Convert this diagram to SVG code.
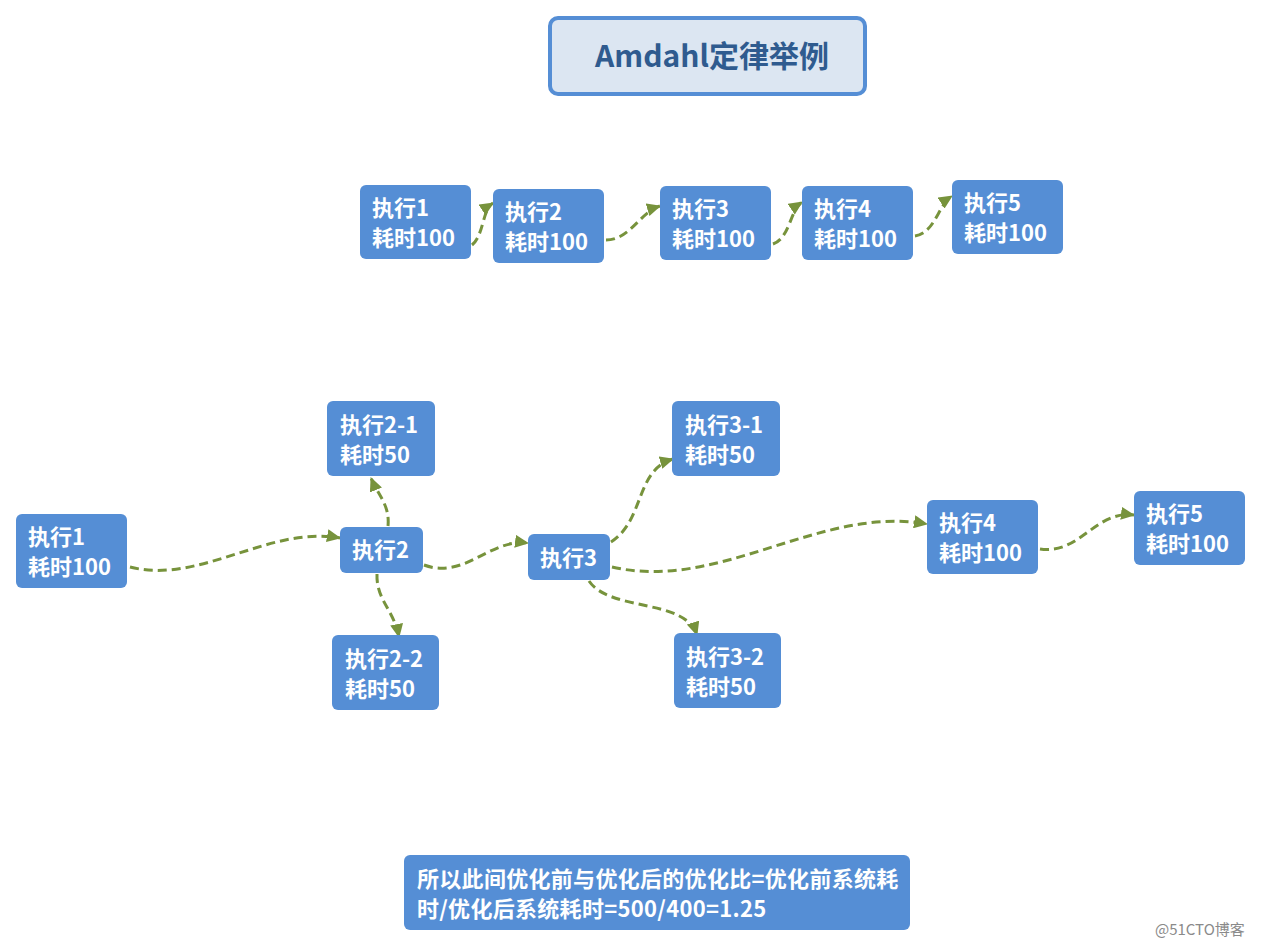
<svg xmlns="http://www.w3.org/2000/svg" width="1262" height="947" viewBox="0 0 1262 947">
<style>
.node{fill:#558ed5;}
.t{font-family:"Noto Sans CJK SC","Liberation Sans",sans-serif;font-weight:bold;font-size:22px;fill:#ffffff;}
.s{letter-spacing:0.3px;}
.title{font-family:"Noto Sans CJK SC","Liberation Sans",sans-serif;font-weight:bold;font-size:30px;fill:#2f5b8f;}
.c{fill:none;stroke:#77933c;stroke-width:3;stroke-dasharray:9,5;marker-end:url(#ah);}
.wm{font-family:"Noto Sans CJK SC","Liberation Sans",sans-serif;font-size:15px;fill:#8a8a8a;}
</style>
<defs>
<marker id="ah" markerUnits="userSpaceOnUse" markerWidth="15" markerHeight="13" refX="13" refY="6.5" orient="auto">
<path d="M0,0 L14,6.5 L0,13 Z" fill="#77933c"/>
</marker>
</defs>
<rect width="1262" height="947" fill="#ffffff"/>
<g id="title">
<rect x="550" y="18" width="315" height="76" rx="8" fill="#dce6f2" stroke="#558ed5" stroke-width="4"/>
<text class="title" x="712" y="67" text-anchor="middle">Amdahl定律举例</text>
</g>
<g id="connectors">
<path class="c" d="M472,245 C484,235 482,210 493,203"/>
<path class="c" d="M606,240 C630,240 640,212 660,206"/>
<path class="c" d="M773,244 C790,238 790,210 802,202"/>
<path class="c" d="M915,236 C935,233 938,205 952,196"/>
<path class="c" d="M130,567 C200,585 270,525 340,538"/>
<path class="c" d="M388,526 C390,505 378,495 371,478"/>
<path class="c" d="M377,574 C376,600 394,610 399,637"/>
<path class="c" d="M424,565 C465,580 490,538 528,543"/>
<path class="c" d="M611,542 C645,520 635,470 673,459"/>
<path class="c" d="M612,567 C720,592 820,505 927,524"/>
<path class="c" d="M589,581 C610,612 685,598 697,635"/>
<path class="c" d="M1040,549 C1080,555 1095,510 1134,515"/>
</g>
<g id="n1"><rect class="node" x="360" y="185" width="111" height="74" rx="6"/><text class="t" x="372" y="216">执行1</text><text class="t" x="372" y="246">耗时100</text></g>
<g id="n2"><rect class="node" x="493" y="189" width="111" height="74" rx="6"/><text class="t" x="505" y="220">执行2</text><text class="t" x="505" y="250">耗时100</text></g>
<g id="n3"><rect class="node" x="660" y="186" width="111" height="74" rx="6"/><text class="t" x="672" y="217">执行3</text><text class="t" x="672" y="247">耗时100</text></g>
<g id="n4"><rect class="node" x="802" y="186" width="111" height="74" rx="6"/><text class="t" x="814" y="217">执行4</text><text class="t" x="814" y="247">耗时100</text></g>
<g id="n5"><rect class="node" x="952" y="180" width="111" height="74" rx="6"/><text class="t" x="964" y="211">执行5</text><text class="t" x="964" y="241">耗时100</text></g>
<g id="m1"><rect class="node" x="16" y="514" width="111" height="74" rx="6"/><text class="t" x="28" y="545">执行1</text><text class="t" x="28" y="575">耗时100</text></g>
<g id="m2"><rect class="node" x="340" y="527" width="83" height="46" rx="6"/><text class="t" x="352" y="558">执行2</text></g>
<g id="m21"><rect class="node" x="327" y="401" width="108" height="75" rx="6"/><text class="t" x="340" y="433">执行2-1</text><text class="t" x="340" y="463">耗时50</text></g>
<g id="m22"><rect class="node" x="332" y="635" width="107" height="75" rx="6"/><text class="t" x="345" y="667">执行2-2</text><text class="t" x="345" y="697">耗时50</text></g>
<g id="m3"><rect class="node" x="528" y="534" width="82" height="46" rx="6"/><text class="t" x="540" y="566">执行3</text></g>
<g id="m31"><rect class="node" x="672" y="401" width="108" height="75" rx="6"/><text class="t" x="685" y="433">执行3-1</text><text class="t" x="685" y="463">耗时50</text></g>
<g id="m32"><rect class="node" x="674" y="633" width="107" height="75" rx="6"/><text class="t" x="686" y="665">执行3-2</text><text class="t" x="686" y="695">耗时50</text></g>
<g id="m4"><rect class="node" x="927" y="500" width="111" height="74" rx="6"/><text class="t" x="939" y="531">执行4</text><text class="t" x="939" y="561">耗时100</text></g>
<g id="m5"><rect class="node" x="1134" y="491" width="111" height="74" rx="6"/><text class="t" x="1146" y="522">执行5</text><text class="t" x="1146" y="552">耗时100</text></g>
<g id="summary"><rect class="node" x="404" y="855" width="506" height="75" rx="6"/><text class="t s" x="417" y="887">所以此间优化前与优化后的优化比=优化前系统耗</text><text class="t s" x="417" y="917">时/优化后系统耗时=500/400=1.25</text></g>
<text class="wm" x="1155" y="935">@51CTO博客</text>
</svg>
